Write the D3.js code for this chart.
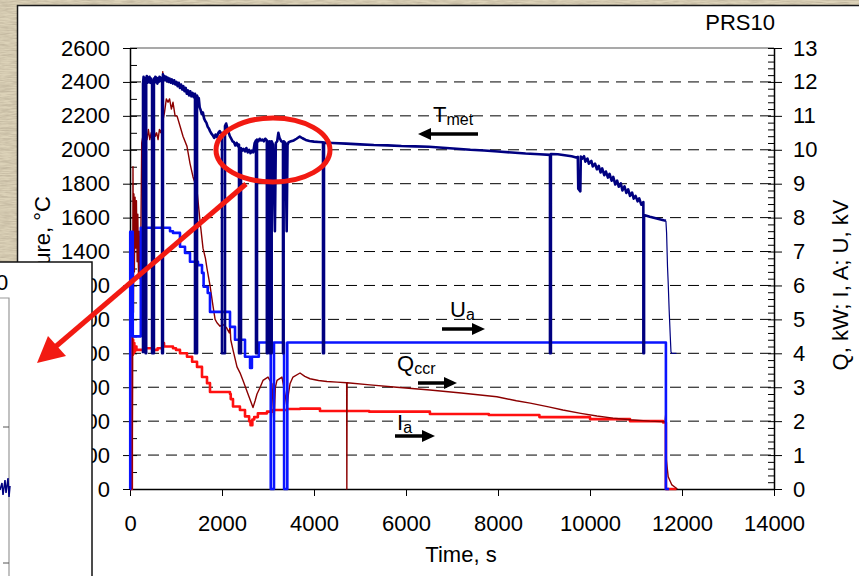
<!DOCTYPE html>
<html>
<head>
<meta charset="utf-8">
<script src="https://cdn.jsdelivr.net/npm/d3@7"></script>
<style>
  body { margin: 0; background: #dcd2b8; }
  svg { display: block; }
  text { font-family: Arial, "Liberation Sans", sans-serif; fill: #000; }
</style>
</head>
<body>
<svg id="chart" width="859" height="576"></svg>
<script>
// axis ticks
const xTicks = [0, 2000, 4000, 6000, 8000, 10000, 12000, 14000];
const tempTicks = [0, 200, 400, 600, 800, 1000, 1200, 1400, 1600, 1800, 2000, 2200, 2400, 2600];
const rightTicks = [0, 1, 2, 3, 4, 5, 6, 7, 8, 9, 10, 11, 12, 13];

// T_met, °C  [time s, value] (drops to 800 = pyrometer floor)
const tMet = [
  [283, 800], [283, 2390], [295, 2430], [305, 2385], [318, 2425], [330, 2400], [340, 2415], [340, 800], [352, 800], [352, 2410],
  [365, 2435], [380, 2395], [395, 2425], [410, 2400], [425, 2430], [440, 2395], [455, 2420], [470, 2390], [480, 2410],
  [480, 800], [520, 800], [520, 2420], [535, 2395], [550, 2430], [565, 2405], [580, 2425], [595, 2390], [610, 2420],
  [625, 2400], [640, 2430], [655, 2405], [670, 2425], [685, 2410], [698, 2420], [698, 800], [716, 800], [716, 2445],
  [730, 2415], [745, 2435], [760, 2410], [780, 2430], [800, 2405], [820, 2425], [840, 2400], [860, 2420], [885, 2395],
  [910, 2415], [935, 2390], [960, 2410], [985, 2385], [1010, 2400], [1035, 2375], [1060, 2395], [1085, 2365],
  [1110, 2385], [1135, 2355], [1160, 2375], [1185, 2345], [1210, 2365], [1235, 2330], [1260, 2350], [1285, 2320],
  [1310, 2345], [1335, 2315], [1360, 2335], [1385, 2310], [1413, 2330], [1413, 800], [1457, 800], [1457, 2320],
  [1475, 2300], [1495, 2305], [1515, 2250], [1535, 2235], [1560, 2210], [1585, 2220], [1610, 2185], [1635, 2170],
  [1660, 2160], [1690, 2135], [1715, 2125], [1740, 2110], [1770, 2095], [1800, 2085], [1830, 2070], [1860, 2090],
  [1890, 2075], [1920, 2100], [1950, 2110], [1975, 2095], [2000, 2100], [2000, 800], [2065, 800], [2065, 2140],
  [2090, 2155], [2115, 2130], [2140, 2105], [2170, 2080], [2200, 2065], [2230, 2050], [2260, 2045], [2290, 2025],
  [2320, 2040], [2350, 2020], [2370, 2030], [2370, 800], [2413, 800], [2413, 2010], [2440, 1995], [2470, 2005],
  [2500, 1990], [2530, 2010], [2560, 1985], [2590, 2000], [2620, 1980], [2650, 1995], [2680, 1985], [2710, 2040],
  [2739, 2055], [2739, 800], [2761, 800], [2761, 2060], [2790, 2050], [2820, 2065], [2850, 2055], [2880, 2060],
  [2910, 2050], [2940, 2065], [2975, 2055], [2975, 800], [2995, 800], [2995, 2050], [3020, 2045], [3040, 2050],
  [3040, 800], [3080, 800], [3080, 2050], [3110, 2030], [3150, 1520], [3170, 2040], [3200, 2050], [3225, 2100],
  [3250, 2070], [3290, 2050], [3326, 2045], [3326, 800], [3340, 800], [3340, 2050], [3380, 2040], [3406, 1520],
  [3425, 2030], [3450, 2045], [3500, 2050], [3560, 2055], [3620, 2065], [3690, 2078], [3750, 2068], [3820, 2058],
  [3900, 2052], [4000, 2048], [4100, 2046], [4196, 2044], [4196, 800], [4217, 800], [4217, 2042], [4400, 2040],
  [4700, 2036], [5000, 2032], [5300, 2028], [5600, 2026], [5900, 2022], [6200, 2020], [6500, 2018], [6800, 2012],
  [7100, 2006], [7400, 2000], [7700, 1996], [8000, 1990], [8300, 1984], [8600, 1978], [8900, 1974], [9130, 1970],
  [9130, 800], [9150, 800], [9150, 1975], [9300, 1974], [9450, 1968], [9600, 1962], [9700, 1955], [9735, 1958],
  [9745, 1770], [9790, 1755], [9800, 1960], [9830, 1948], [9870, 1962], [9900, 1930], [9945, 1948], [9975, 1918],
  [10030, 1934], [10060, 1902], [10110, 1918], [10150, 1885], [10190, 1905], [10230, 1866], [10265, 1890],
  [10310, 1850], [10345, 1872], [10390, 1836], [10425, 1858], [10470, 1818], [10505, 1840], [10550, 1795],
  [10590, 1818], [10625, 1782], [10670, 1802], [10705, 1760], [10750, 1784], [10790, 1745], [10830, 1766],
  [10870, 1728], [10915, 1748], [10950, 1712], [10990, 1728], [11035, 1696], [11070, 1714], [11115, 1676],
  [11160, 1692], [11160, 800], [11175, 800], [11175, 1615], [11300, 1605], [11450, 1595], [11600, 1585],
  [11650, 1582]
];
// thin tail of T_met at switch-off
const tMetTail = [
  [11650, 1582], [11665, 1510], [11685, 1310], [11700, 1215], [11720, 1060], [11745, 900], [11760, 810],
  [11775, 800], [11880, 800]
];

// Q_ccr, kW
const qCcr = [
  [0, 0], [45, 0], [55, 3], [65, 9.5], [75, 5.2], [85, 8.7], [95, 6.4], [110, 8.6], [125, 7.1], [140, 8.5],
  [155, 6.7], [170, 8.1], [185, 6.3], [200, 7.6], [215, 6.2], [235, 7.3], [255, 10.2], [280, 10.4], [310, 10.2],
  [340, 10.5], [370, 10.3], [400, 10.6], [430, 10.3], [460, 10.5], [490, 10.2], [520, 10.6], [550, 10.4],
  [580, 10.5], [610, 10.3], [640, 10.6], [670, 10.5], [700, 10.7], [712, 12.3], [722, 10.9], [750, 11.1],
  [790, 11.5], [826, 11.4], [860, 11.5], [900, 11.2], [935, 11.4], [980, 11.0], [1022, 11.0], [1087, 10.7],
  [1152, 10.4], [1239, 10.1], [1304, 9.6], [1370, 9.2], [1420, 9.0], [1457, 8.8], [1522, 7.9], [1587, 7.1],
  [1640, 6.8], [1674, 6.5], [1739, 6.0], [1804, 5.4], [1850, 5.0], [1891, 4.9], [1957, 4.8], [2022, 4.85],
  [2100, 4.75], [2160, 4.6], [2174, 4.85], [2190, 4.4], [2239, 4.1], [2326, 3.6], [2400, 3.4], [2457, 3.2],
  [2565, 2.8], [2674, 2.4], [2720, 2.6], [2761, 2.8], [2830, 3.0], [2891, 3.2], [3000, 3.3], [3087, 3.1],
  [3130, 1.9], [3160, 3.0], [3196, 3.2], [3304, 3.3], [3370, 2.8], [3413, 2.4], [3445, 2.8], [3478, 3.1],
  [3543, 3.3], [3696, 3.42], [3800, 3.32], [3913, 3.25], [4100, 3.2], [4283, 3.17], [4500, 3.15], [4710, 3.13],
  [4714, 0], [4720, 3.13], [5217, 3.07], [5800, 3.0], [6520, 2.92], [7200, 2.83], [7975, 2.72], [8400, 2.6],
  [8700, 2.53], [9100, 2.42], [9410, 2.33], [9800, 2.23], [10150, 2.15], [10500, 2.09], [10870, 2.04],
  [11300, 2.0], [11630, 1.98], [11650, 2.25], [11660, 0.85], [11700, 0.36], [11780, 0.12], [11850, 0.05],
  [11900, 0]
];

// I_a, A (stepped record)
const iA = [
  [0, 0], [20, 0], [40, 4.45], [50, 3.95], [60, 4.4], [70, 4.0], [80, 4.3], [95, 4.05], [110, 4.2], [140, 4.1],
  [300, 4.15], [500, 4.1], [600, 4.15], [700, 4.2], [717, 4.3], [740, 4.2], [935, 4.15], [1000, 4.1], [1087, 4.0],
  [1239, 3.9], [1350, 3.75], [1457, 3.6], [1565, 3.3], [1674, 3.12], [1739, 2.86], [2174, 2.8], [2190, 2.65],
  [2239, 2.43], [2390, 2.33], [2500, 2.14], [2590, 2.0], [2620, 1.88], [2660, 2.05], [2700, 2.12], [2780, 2.23],
  [2978, 2.28], [3100, 2.33], [3413, 2.36], [3700, 2.37], [4130, 2.3], [5200, 2.28], [6520, 2.21], [7800, 2.18],
  [8900, 2.12], [10000, 2.06], [10870, 2.0], [11590, 1.96], [11650, 0], [11880, 0]
];

// U_a, kV (stepped record)
const uA = [
  [0, 0], [5, 7.58], [60, 4.5], [235, 7.7], [870, 7.6], [935, 7.55], [1087, 7.14], [1196, 6.96], [1304, 6.7],
  [1478, 6.6], [1565, 6.37], [1600, 5.96], [1690, 5.78], [1739, 5.22], [2174, 4.78], [2283, 4.4], [2500, 3.9],
  [2610, 3.57], [2650, 3.9], [2800, 4.32], [3060, 0], [3130, 4.32], [3350, 0], [3420, 4.32], [11650, 0],
  [11720, 0]
];

const svg = d3.select('#chart');

// paper texture behind the chart panel
const defs = svg.append('defs');
const paper = defs.append('filter').attr('id', 'paper')
  .attr('x', 0).attr('y', 0).attr('width', '100%').attr('height', '100%');
paper.append('feTurbulence').attr('type', 'fractalNoise')
  .attr('baseFrequency', '0.08 0.7').attr('numOctaves', 3).attr('seed', 7);
paper.append('feColorMatrix').attr('type', 'matrix')
  .attr('values', '0 0 0 0 0.42  0 0 0 0 0.36  0 0 0 0 0.26  1.1 0 0 0 -0.35');
svg.append('rect').attr('width', 859).attr('height', 576).attr('fill', '#dcd2b8');
svg.append('rect').attr('width', 859).attr('height', 576).attr('filter', 'url(#paper)');

// white chart panel
svg.append('rect')
  .attr('x', 17.5).attr('y', 5.5).attr('width', 880).attr('height', 600)
  .attr('fill', '#fff').attr('stroke', '#1a1a1a').attr('stroke-width', 1.5);

const x = d3.scaleLinear().domain([0, 14000]).range([130, 774]);
const yT = d3.scaleLinear().domain([0, 2600]).range([489, 48]);
const yR = d3.scaleLinear().domain([0, 13]).range([489, 48]);
const fmt = d3.format('d');

// grid
const grid = svg.append('g');
grid.selectAll('line')
  .data(rightTicks.filter(d => d > 0 && d < 13))
  .enter()
  .append('line')
  .attr('x1', x(0)).attr('x2', x(14000))
  .attr('y1', d => yR(d)).attr('y2', d => yR(d))
  .attr('stroke', '#000').attr('stroke-width', 1).attr('stroke-dasharray', '11,7');
grid.append('line')
  .attr('x1', x(0)).attr('x2', x(14000))
  .attr('y1', yR(13)).attr('y2', yR(13))
  .attr('stroke', '#8c8c8c').attr('stroke-width', 1.5);

// left axis
const gL = svg.append('g')
  .attr('transform', `translate(${x(0)},0)`)
  .call(d3.axisLeft(yT).tickValues(tempTicks).tickFormat(fmt).tickSize(0).tickPadding(20).tickSizeOuter(0));
gL.selectAll('.tick line').attr('x1', -7).attr('x2', 7).attr('stroke', '#000');
svg.append('g')
  .attr('transform', `translate(${x(0)},0)`)
  .call(d3.axisRight(yT).tickValues(d3.range(100, 2600, 200)).tickSize(7).tickFormat(''))
  .select('.domain').remove();

// right axis
const gR = svg.append('g')
  .attr('transform', `translate(${x(14000)},0)`)
  .call(d3.axisRight(yR).tickValues(rightTicks).tickFormat(fmt).tickSize(0).tickPadding(19).tickSizeOuter(0));
gR.selectAll('.tick line').attr('x1', -6).attr('x2', 8).attr('stroke', '#000');
svg.append('g')
  .attr('transform', `translate(${x(14000)},0)`)
  .call(d3.axisLeft(yR).tickValues(d3.range(0, 65).map(i => i / 5).filter(v => Math.abs(v - Math.round(v)) > 0.01)).tickSize(6).tickFormat(''))
  .select('.domain').remove();

// bottom axis
svg.append('g')
  .attr('transform', `translate(0,${yT(0)})`)
  .call(d3.axisBottom(x).tickValues(xTicks).tickFormat(fmt).tickSize(7).tickPadding(19).tickSizeOuter(0));

svg.selectAll('.domain').attr('stroke', '#000').attr('stroke-width', 1.5);
svg.selectAll('.tick text').attr('font-size', 22).attr('font-family', 'Arial, "Liberation Sans", sans-serif');

// series
const lineT = d3.line().x(d => x(d[0])).y(d => yT(d[1]));
const lineR = d3.line().x(d => x(d[0])).y(d => yR(d[1]));
const stepR = d3.line().x(d => x(d[0])).y(d => yR(d[1])).curve(d3.curveStepAfter);

const plot = svg.append('g').attr('fill', 'none').attr('stroke-linejoin', 'round');
plot.append('path').attr('d', stepR(iA)).attr('stroke', '#ff1010').attr('stroke-width', 2.6);
plot.append('path').attr('d', lineR(qCcr)).attr('stroke', '#8b0000').attr('stroke-width', 1.4);
plot.append('path').attr('d', stepR(uA)).attr('stroke', '#0a14ff').attr('stroke-width', 2.6);
plot.append('path').attr('d', lineT(tMet)).attr('stroke', '#000080').attr('stroke-width', 2.6);
plot.append('path').attr('d', lineT(tMetTail)).attr('stroke', '#000080').attr('stroke-width', 1.2);

// series labels with arrows
function label(xp, yp, main, sub, ax1, ax2, ay) {
  const t = svg.append('text').attr('x', xp).attr('y', yp).attr('font-size', 22).text(main);
  t.append('tspan').attr('font-size', 16).attr('dy', 3).text(sub);
  const dir = ax2 > ax1 ? 1 : -1;
  svg.append('line')
    .attr('x1', ax1).attr('x2', ax2 - dir * 8).attr('y1', ay).attr('y2', ay)
    .attr('stroke', '#000').attr('stroke-width', 3.5);
  svg.append('path')
    .attr('d', `M${ax2},${ay} L${ax2 - dir * 13},${ay - 6} L${ax2 - dir * 13},${ay + 6} Z`)
    .attr('fill', '#000');
}
label(433, 122, 'T', 'met', 478, 418, 134);
label(450, 317, 'U', 'a', 442, 485, 329);
label(397, 371, 'Q', 'ccr', 418, 457, 383);
label(397, 430, 'I', 'a', 395, 435, 436);

// titles
svg.append('text').attr('x', 775).attr('y', 30).attr('text-anchor', 'end').attr('font-size', 22).text('PRS10');
svg.append('text').attr('x', 461).attr('y', 562).attr('text-anchor', 'middle').attr('font-size', 22).text('Time, s');
svg.append('text')
  .attr('transform', 'translate(50,196) rotate(-90)')
  .attr('text-anchor', 'end').attr('font-size', 22).text('Temperature, °C');
svg.append('text')
  .attr('transform', 'translate(848,285) rotate(-90)')
  .attr('text-anchor', 'middle').attr('font-size', 22).text('Q, kW; I, A; U, kV');

// inset panel (zoomed view, mostly off-screen)
const inset = svg.append('g');
inset.append('rect').attr('x', -3).attr('y', 262).attr('width', 95).attr('height', 330)
  .attr('fill', '#fff').attr('stroke', '#111').attr('stroke-width', 1.5);
inset.append('text').attr('x', -4).attr('y', 290).attr('font-size', 22).text('0');
inset.append('path').attr('d', 'M0,298 H9 V576').attr('fill', 'none').attr('stroke', '#999').attr('stroke-width', 1.2);
inset.append('path').attr('d', 'M3,427 H9 M3,563 H9').attr('stroke', '#555').attr('stroke-width', 1);
inset.append('path')
  .attr('d', 'M0,490 L2,483 L3,495 L5,480 L6,493 L8,478 L9,497 L10,486')
  .attr('fill', 'none').attr('stroke', '#000080').attr('stroke-width', 1.5);

// red highlight ellipse and arrow
svg.append('ellipse').attr('cx', 273).attr('cy', 150).attr('rx', 57).attr('ry', 32)
  .attr('fill', 'none').attr('stroke', '#f21a12').attr('stroke-width', 5);
svg.append('line').attr('x1', 246).attr('y1', 184).attr('x2', 54).attr('y2', 348)
  .attr('stroke', '#f21a12').attr('stroke-width', 5);
svg.append('path').attr('d', 'M37,363 L48,336 L66,356 Z').attr('fill', '#f21a12');
</script>
</body>
</html>
